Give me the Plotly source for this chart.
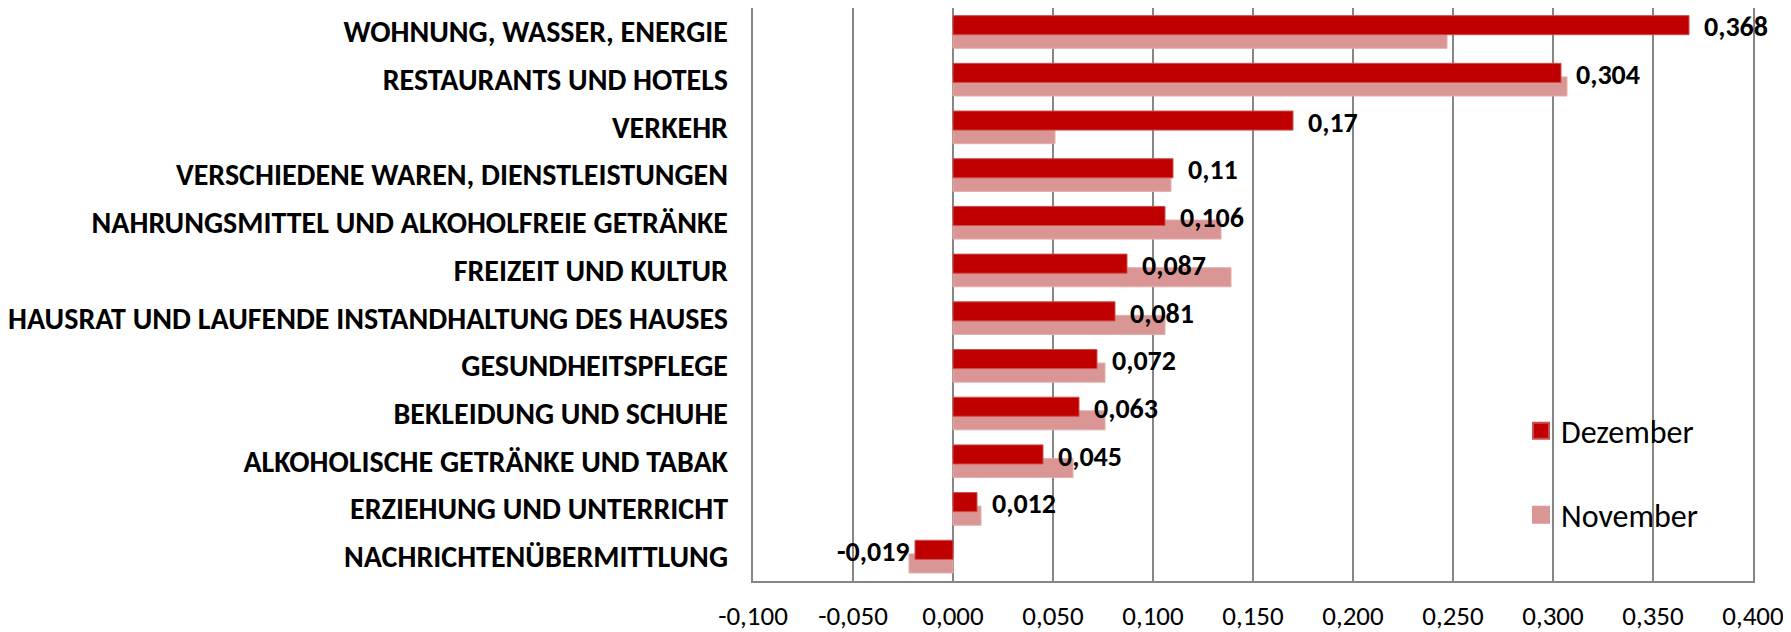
import plotly.graph_objects as go

categories = [
    "WOHNUNG, WASSER, ENERGIE",
    "RESTAURANTS UND HOTELS",
    "VERKEHR",
    "VERSCHIEDENE WAREN, DIENSTLEISTUNGEN",
    "NAHRUNGSMITTEL UND ALKOHOLFREIE GETRÄNKE",
    "FREIZEIT UND KULTUR",
    "HAUSRAT UND LAUFENDE INSTANDHALTUNG DES HAUSES",
    "GESUNDHEITSPFLEGE",
    "BEKLEIDUNG UND SCHUHE",
    "ALKOHOLISCHE GETRÄNKE UND TABAK",
    "ERZIEHUNG UND UNTERRICHT",
    "NACHRICHTENÜBERMITTLUNG",
]
dezember = [0.368, 0.304, 0.17, 0.11, 0.106, 0.087, 0.081, 0.072, 0.063, 0.045, 0.012, -0.019]
november = [0.247, 0.307, 0.051, 0.109, 0.134, 0.139, 0.106, 0.076, 0.076, 0.060, 0.014, -0.022]
x_ticks = [-0.1, -0.05, 0.0, 0.05, 0.1, 0.15, 0.2, 0.25, 0.3, 0.35, 0.4]
x_ticktext = [f"{v:.3f}".replace(".", ",") for v in x_ticks]

FONT = "Calibri, Carlito, Lato, sans-serif"
GRID = "#868686"
DEZ_COLOR = "#C00000"
NOV_COLOR = "#DA9694"

fig = go.Figure()
fig.add_trace(go.Bar(
    name="November", y=categories, x=november, orientation="h",
    offset=-0.055, width=0.40,
    marker=dict(color=NOV_COLOR, line=dict(color="#E4AEAD", width=1)),
    showlegend=False, hoverinfo="x+y",
))
fig.add_trace(go.Bar(
    name="Dezember", y=categories, x=dezember, orientation="h",
    offset=-0.34, width=0.40,
    marker=dict(color=DEZ_COLOR, line=dict(color="#C9504E", width=1)),
    showlegend=False, hoverinfo="x+y",
))
# legend-only entries (larger square keys, as in the reference)
fig.add_trace(go.Scatter(
    name="Dezember", x=[None], y=[None], mode="markers",
    marker=dict(symbol="square", size=16, color=DEZ_COLOR, line=dict(color="#C9504E", width=2)),
    legend="legend", hoverinfo="skip",
))
fig.add_trace(go.Scatter(
    name="November", x=[None], y=[None], mode="markers",
    marker=dict(symbol="square", size=16, color=NOV_COLOR, line=dict(color=NOV_COLOR, width=2)),
    legend="legend2", hoverinfo="skip",
))

labels = [str(v).replace(".", ",") for v in dezember]
for cat, v, t in zip(categories, dezember, labels):
    fig.add_annotation(
        x=v, y=cat, text=t, showarrow=False,
        xanchor="left" if v >= 0 else "right",
        xshift=13 if v >= 0 else -3, yshift=5,
        font=dict(family=FONT, size=28, color="black", weight="bold"),
    )

# page body has an 8px default margin: figure sized to fit the window exactly
fig.update_layout(
    width=1783, height=624,
    margin=dict(l=745, r=38, t=0, b=51, autoexpand=False),
    paper_bgcolor="white", plot_bgcolor="white",
    barmode="overlay",
    separators=",.",
    font=dict(family=FONT, color="black"),
    legend=dict(x=0.768, y=0.2618, xref="paper", yref="paper",
                xanchor="left", yanchor="middle", bgcolor="rgba(0,0,0,0)",
                itemsizing="trace",
                font=dict(family=FONT, size=32, color="black")),
    legend2=dict(x=0.768, y=0.1152, xref="paper", yref="paper",
                 xanchor="left", yanchor="middle", bgcolor="rgba(0,0,0,0)",
                 itemsizing="trace",
                 font=dict(family=FONT, size=32, color="black")),
    showlegend=True,
)
fig.update_xaxes(
    range=[-0.1, 0.4], tickvals=x_ticks, ticktext=x_ticktext,
    showgrid=True, gridcolor=GRID, gridwidth=2,
    zeroline=True, zerolinecolor=GRID, zerolinewidth=2,
    showline=True, linecolor=GRID, linewidth=2, mirror=False,
    ticks="", ticklabelstandoff=10,
    tickfont=dict(family=FONT, size=27, color="black"),
)
fig.update_yaxes(
    type="category", categoryorder="array", categoryarray=categories,
    autorange="reversed", showgrid=False, zeroline=False,
    showline=True, linecolor=GRID, linewidth=2, mirror=True,
    ticks="", ticklabelstandoff=17,
    tickfont=dict(family=FONT, size=30, color="black", weight="bold"),
)

fig.write_html("out.html")
